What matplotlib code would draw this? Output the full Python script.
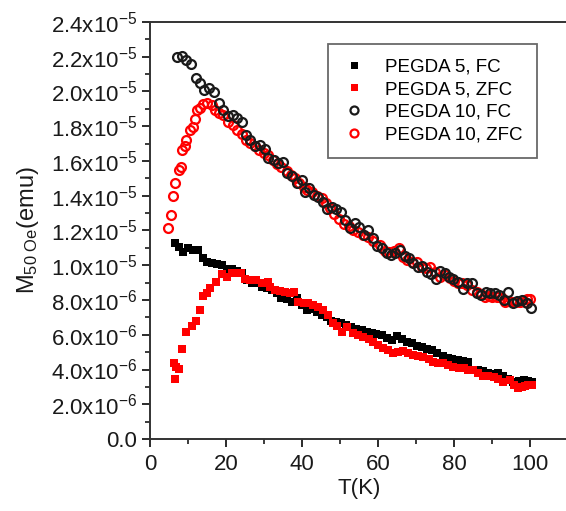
"""
Magnetisation vs temperature, PEGDA 5 / PEGDA 10, FC and ZFC at 50 Oe.
"""

import matplotlib
matplotlib.use("Agg")
import matplotlib.pyplot as plt
from matplotlib.ticker import MultipleLocator, FuncFormatter

plt.rcParams["font.family"] = ["Liberation Sans", "DejaVu Sans"]
plt.rcParams["mathtext.fontset"] = "custom"
plt.rcParams["mathtext.rm"] = "Liberation Sans"
plt.rcParams["mathtext.it"] = "Liberation Sans:italic"

# magnetisation values are in units of 1e-5 emu
T_p5_fc = [6.6, 7.7, 8.8, 10.1, 11.4, 12.7, 13.9, 15.1, 16.2, 17.5,
           18.9, 20.2, 21.5, 22.8, 24.1, 25.4, 26.8, 28.1, 29.4, 30.7,
           32.0, 33.3, 34.6, 36.0, 37.3, 38.6, 39.9, 41.2, 42.5, 43.9,
           45.2, 46.5, 47.7, 49.0, 50.3, 51.6, 53.0, 54.3, 55.7, 57.0,
           58.3, 59.6, 61.0, 62.3, 63.6, 65.0, 66.3, 67.6, 69.0, 70.3,
           71.6, 73.0, 74.3, 75.6, 77.0, 78.3, 79.6, 81.0, 82.3, 83.6,
           85.0, 86.3, 87.6, 89.0, 90.3, 91.6, 93.0, 94.3, 95.6, 97.0,
           98.3, 99.6, 100.4]
M_p5_fc = [1.126, 1.103, 1.078, 1.097, 1.090, 1.086, 1.040, 1.021, 1.011, 1.009,
           1.001, 0.977, 0.977, 0.969, 0.954, 0.915, 0.900, 0.896, 0.877, 0.868,
           0.858, 0.839, 0.810, 0.804, 0.790, 0.810, 0.771, 0.742, 0.751, 0.733,
           0.714, 0.704, 0.680, 0.672, 0.665, 0.655, 0.646, 0.635, 0.627, 0.618,
           0.612, 0.605, 0.599, 0.580, 0.570, 0.590, 0.575, 0.560, 0.551, 0.535,
           0.531, 0.518, 0.512, 0.493, 0.480, 0.464, 0.460, 0.455, 0.450, 0.445,
           0.400, 0.395, 0.390, 0.378, 0.375, 0.378, 0.360, 0.345, 0.330, 0.335,
           0.340, 0.335, 0.330]

T_p5_zfc = [6.3, 6.6, 6.8, 7.7, 8.5, 9.5, 11.0, 12.1, 13.2, 14.0,
            14.9, 15.8, 17.4, 18.9, 20.2, 21.5, 22.8, 23.9, 25.0, 26.3,
            27.9, 29.4, 31.1, 31.6, 32.9, 34.2, 35.5, 36.8, 37.9, 39.0,
            40.4, 41.7, 43.0, 44.3, 45.6, 46.9, 48.2, 49.3, 50.4, 51.8,
            53.5, 54.8, 56.1, 57.5, 58.8, 60.1, 61.4, 62.7, 64.0, 65.3,
            66.7, 68.0, 69.3, 70.6, 71.9, 73.3, 74.6, 75.9, 77.2, 78.5,
            79.8, 81.2, 82.5, 83.8, 85.1, 86.4, 87.7, 89.0, 90.4, 91.7,
            93.0, 94.7, 95.8, 96.9, 97.8, 98.6, 99.5, 100.4]
M_p5_zfc = [0.435, 0.343, 0.416, 0.401, 0.516, 0.618, 0.650, 0.681, 0.742, 0.823,
            0.839, 0.867, 0.905, 0.950, 0.934, 0.954, 0.958, 0.954, 0.919, 0.915,
            0.915, 0.896, 0.905, 0.877, 0.858, 0.850, 0.846, 0.839, 0.846, 0.790,
            0.781, 0.785, 0.771, 0.758, 0.742, 0.714, 0.666, 0.650, 0.618, 0.646,
            0.608, 0.600, 0.589, 0.575, 0.560, 0.540, 0.522, 0.510, 0.493, 0.500,
            0.508, 0.495, 0.483, 0.478, 0.474, 0.460, 0.445, 0.440, 0.435, 0.425,
            0.416, 0.410, 0.407, 0.400, 0.397, 0.380, 0.363, 0.360, 0.355, 0.345,
            0.330, 0.340, 0.310, 0.292, 0.300, 0.305, 0.310, 0.311]

T_p10_fc = [7.2, 8.5, 9.6, 10.9, 12.1, 13.2, 14.2, 15.6, 16.9, 18.1,
            19.3, 20.4, 21.8, 23.0, 24.1, 25.3, 26.3, 27.6, 28.9, 30.3,
            31.1, 32.5, 33.8, 34.9, 36.0, 37.3, 38.6, 39.9, 40.8, 41.9,
            43.2, 44.3, 45.5, 46.7, 47.8, 48.9, 50.2, 51.3, 52.6, 53.9,
            55.1, 56.3, 57.4, 58.6, 59.8, 61.1, 62.3, 63.4, 64.6, 65.8,
            67.0, 68.1, 69.3, 70.5, 71.6, 72.8, 74.0, 75.2, 76.3, 77.5,
            78.8, 79.8, 81.1, 82.3, 83.5, 84.7, 86.0, 87.1, 88.3, 89.5,
            90.7, 91.9, 93.1, 94.3, 95.5, 96.7, 97.9, 99.1, 100.3]
M_p10_fc = [2.200, 2.206, 2.181, 2.156, 2.080, 2.047, 2.009, 2.022, 1.999, 1.932,
            1.894, 1.859, 1.865, 1.846, 1.826, 1.750, 1.721, 1.686, 1.692, 1.667,
            1.615, 1.606, 1.587, 1.596, 1.533, 1.514, 1.471, 1.491, 1.423, 1.443,
            1.404, 1.395, 1.366, 1.322, 1.333, 1.322, 1.308, 1.260, 1.213, 1.245,
            1.222, 1.174, 1.203, 1.155, 1.111, 1.097, 1.069, 1.059, 1.072, 1.088,
            1.053, 1.040, 1.015, 0.992, 0.996, 0.963, 0.950, 0.919, 0.969, 0.957,
            0.934, 0.919, 0.905, 0.862, 0.896, 0.896, 0.839, 0.829, 0.848, 0.839,
            0.843, 0.829, 0.800, 0.848, 0.781, 0.796, 0.800, 0.781, 0.756]

T_p10_zfc = [4.8, 5.4, 6.1, 6.6, 7.5, 8.1, 8.5, 9.2, 9.6, 10.5,
             11.2, 11.8, 12.3, 13.2, 14.0, 15.1, 16.2, 17.1, 18.2, 19.3,
             20.6, 21.9, 23.0, 24.1, 25.3, 26.3, 27.6, 28.8, 30.0, 31.1,
             32.3, 33.5, 34.6, 36.0, 37.0, 38.2, 39.3, 40.4, 41.4, 42.5,
             43.9, 45.2, 46.3, 47.3, 48.3, 49.8, 51.1, 52.3, 53.5, 54.8,
             56.1, 57.4, 58.8, 60.4, 61.8, 63.0, 64.2, 65.4, 66.5, 67.7,
             69.0, 70.2, 71.5, 72.6, 73.7, 75.0, 76.3, 77.6, 78.9, 80.0,
             81.1, 82.2, 83.3, 84.7, 86.0, 87.1, 88.2, 89.1, 90.0, 91.3,
             92.6, 93.4, 94.3, 95.2, 96.3, 97.4, 98.6, 99.3, 100.0]
M_p10_zfc = [1.213, 1.289, 1.400, 1.471, 1.550, 1.564, 1.663, 1.686, 1.721, 1.778,
             1.794, 1.840, 1.894, 1.903, 1.928, 1.935, 1.920, 1.894, 1.878, 1.865,
             1.826, 1.807, 1.778, 1.753, 1.721, 1.701, 1.686, 1.663, 1.648, 1.634,
             1.606, 1.583, 1.568, 1.545, 1.520, 1.500, 1.476, 1.453, 1.434, 1.424,
             1.399, 1.386, 1.356, 1.330, 1.295, 1.264, 1.237, 1.225, 1.203, 1.190,
             1.174, 1.160, 1.141, 1.117, 1.084, 1.075, 1.080, 1.097, 1.050, 1.030,
             1.020, 1.021, 0.992, 0.985, 0.992, 0.963, 0.935, 0.944, 0.925, 0.910,
             0.900, 0.895, 0.886, 0.858, 0.848, 0.835, 0.819, 0.825, 0.819, 0.815,
             0.810, 0.791, 0.795, 0.786, 0.790, 0.786, 0.790, 0.805, 0.804]

labels = ["PEGDA 5, FC", "PEGDA 5, ZFC", "PEGDA 10, FC", "PEGDA 10, ZFC"]


def sci_label(v, pos):
    if abs(v) < 1e-9:
        return "0.0"
    if v >= 1.0 - 1e-9:
        return f"{v:.1f}x10$^{{\\mathregular{{-5}}}}$"
    return f"{v * 10:.1f}x10$^{{\\mathregular{{-6}}}}$"


fig = plt.figure(figsize=(5.66, 5.11), dpi=100)
ax = fig.add_axes([150 / 566, 72 / 511, 418 / 566, 417 / 511])

h1, = ax.plot(T_p5_fc, M_p5_fc, "s", color="black", markersize=5.6, markeredgewidth=0)
h2, = ax.plot(T_p5_zfc, M_p5_zfc, "s", color="#ff0000", markersize=5.6, markeredgewidth=0)
h4, = ax.plot(T_p10_zfc, M_p10_zfc, "o", mfc="none", mec="#ff0000", markersize=6.4, markeredgewidth=1.6)
h3, = ax.plot(T_p10_fc, M_p10_fc, "o", mfc="none", mec="#1a1a1a", markersize=6.4, markeredgewidth=1.6)

ax.set_xlim(0, 110)
ax.set_ylim(0, 2.4)
ax.xaxis.set_major_locator(MultipleLocator(20))
ax.xaxis.set_minor_locator(MultipleLocator(10))
ax.yaxis.set_major_locator(MultipleLocator(0.2))
ax.yaxis.set_minor_locator(MultipleLocator(0.1))
ax.yaxis.set_major_formatter(FuncFormatter(sci_label))
ax.tick_params(which="major", direction="out", length=6, width=1.3, labelsize=16, colors="#1a1a1a")
ax.tick_params(which="minor", direction="out", length=3.5, width=1.2, colors="#1a1a1a")
ax.tick_params(axis="x", pad=5)
for s in ax.spines.values():
    s.set_linewidth(1.4)
    s.set_color("#333333")
ax.spines["right"].set_visible(False)

ax.set_xlabel("T(K)", fontsize=16, labelpad=2, color="#1a1a1a")
ax.set_ylabel("M$_{\\mathregular{50\\ Oe}}$(emu)", fontsize=17, labelpad=7, color="#1a1a1a")

leg = ax.legend([h1, h2, h3, h4], labels, loc="upper left", bbox_to_anchor=(0.426, 0.947),
                borderaxespad=0, fontsize=13.5, frameon=True, fancybox=False,
                handletextpad=1.0, borderpad=0.75, labelspacing=0.3, handlelength=1.3,
                markerscale=0.9)
leg.get_frame().set_edgecolor("#444444")
leg.get_frame().set_linewidth(1.3)

plt.savefig("out.png", dpi=100)
